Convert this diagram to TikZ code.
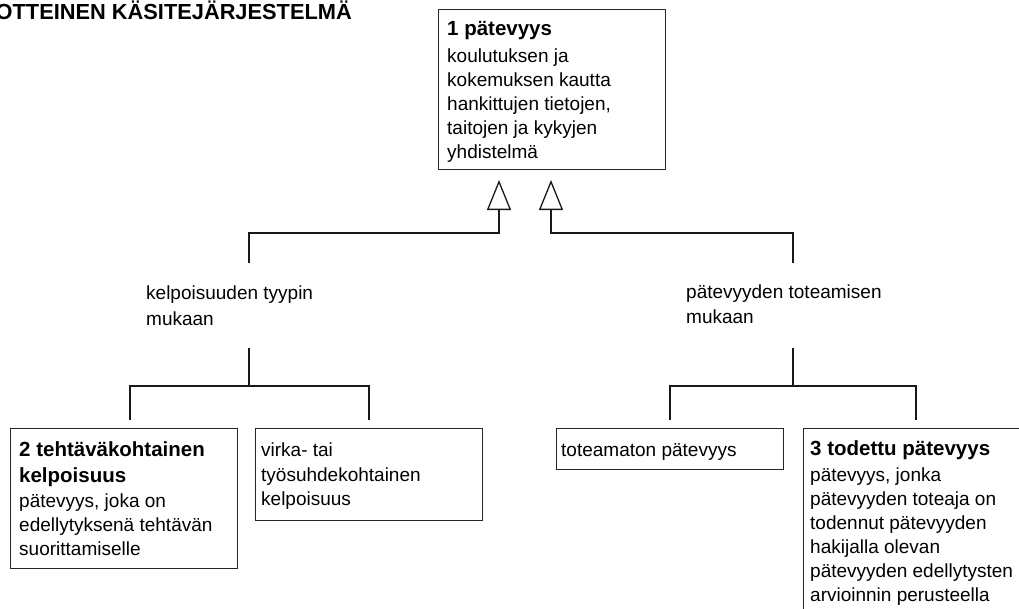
\documentclass[tikz,border=0pt]{standalone}
\usepackage{fontspec}
\setmainfont{Liberation Sans}
\usetikzlibrary{arrows.meta}
\tikzset{
  box/.style={draw=black!85, line width=1.3pt, anchor=north west, inner sep=0pt},
  conn/.style={draw=black!90, line width=1.4pt},
  txt/.style={anchor=base west, inner sep=0pt, align=left, font=\fontsize{19}{24}\selectfont},
  inh/.style={-{Triangle[open, length=30pt, width=24pt, line width=1.3pt]}},
}
\newcommand{\hdt}[1]{{\fontsize{20.5}{24}\selectfont\bfseries #1}}
\begin{document}
\begin{tikzpicture}[x=1pt,y=-1pt]
\useasboundingbox (0,0) rectangle (1019,608);
\clip (0,0) rectangle (1019,608);

% title
\node[anchor=base east, inner sep=0pt, font=\fontsize{21.8}{24}\selectfont\bfseries] (title) at (352,19) {OTTEINEN KÄSITEJÄRJESTELMÄ};

% boxes
\node[box, minimum width=227pt, minimum height=160pt] (b1) at (438,9) {};
\node[box, minimum width=227pt, minimum height=140pt] (b2) at (10,428) {};
\node[box, minimum width=227pt, minimum height=92pt] (b3) at (255,428) {};
\node[box, minimum width=227pt, minimum height=41pt] (b4) at (556,428) {};
\node[box, minimum width=400pt, minimum height=300pt] (b5) at (803,428) {};

% texts (anchored at the baseline of their last line)
\node[txt] (t1) at (447,158) {\hdt{1 pätevyys}\\[3pt]koulutuksen ja\\kokemuksen kautta\\hankittujen tietojen,\\taitojen ja kykyjen\\yhdistelmä};
\node[txt] (t2) at (19,555) {\hdt{2 tehtäväkohtainen}\\[2pt]\hdt{kelpoisuus}\\[1pt]pätevyys, joka on\\edellytyksenä tehtävän\\suorittamiselle};
\node[txt] (t3) at (261,505) {virka- tai\\[1pt]työsuhdekohtainen\\kelpoisuus};
\node[txt] (t4) at (561,456) {toteamaton pätevyys};
\node[txt] (t5) at (810,601) {\hdt{3 todettu pätevyys}\\[2pt]pätevyys, jonka\\pätevyyden toteaja on\\todennut pätevyyden\\hakijalla olevan\\pätevyyden edellytysten\\arvioinnin perusteella};

% labels
\node[txt] (l1) at (146,325) {kelpoisuuden tyypin\\[2pt]mukaan};
\node[txt] (l2) at (686,323) {pätevyyden toteamisen\\[1pt]mukaan};

% connector points
\coordinate (a1) at (499,180);
\coordinate (a2) at (551,180);
\coordinate (c1) at (249,263);
\coordinate (c2) at (793,263);
\coordinate (h) at (0,233);
\coordinate (d1) at (249,348);
\coordinate (d2) at (793,348);
\coordinate (h2) at (0,386);
\coordinate (e1) at (130,420);
\coordinate (e2) at (369,420);
\coordinate (e3) at (670,420);
\coordinate (e4) at (916,420);

\draw[conn,inh] (c1) -- (c1 |- h) -| (a1);
\draw[conn,inh] (c2) -- (c2 |- h) -| (a2);
\draw[conn] (d1) -- (d1 |- h2);
\draw[conn] (e1) |- (d1 |- h2) -| (e2);
\draw[conn] (d2) -- (d2 |- h2);
\draw[conn] (e3) |- (d2 |- h2) -| (e4);
\end{tikzpicture}
\end{document}
